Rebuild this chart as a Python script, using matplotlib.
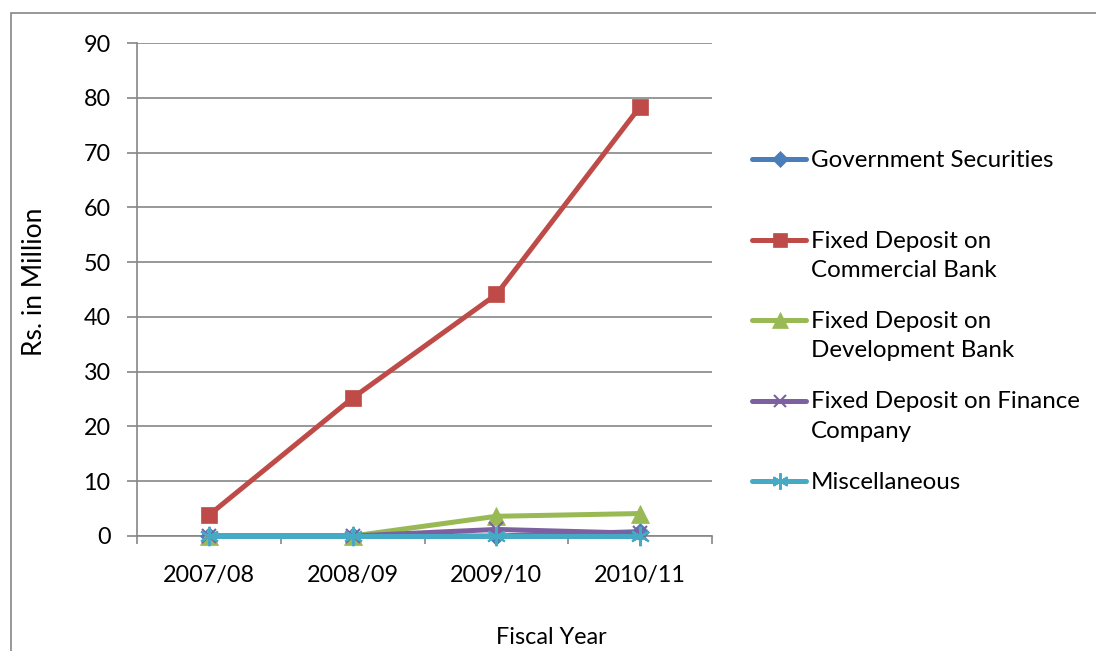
import matplotlib
matplotlib.use("Agg")
import matplotlib.pyplot as plt
from matplotlib.lines import Line2D
from matplotlib.patches import Rectangle

plt.rcParams['font.family'] = ['Lato', 'DejaVu Sans']

years = ["2007/08", "2008/09", "2009/10", "2010/11"]
gov_securities = [0.0, 0.0, 0.0, 0.8]
fd_commercial = [3.8, 25.2, 44.1, 78.4]
fd_development = [0.0, 0.0, 3.6, 4.1]
fd_finance = [0.0, 0.0, 1.2, 0.5]
miscellaneous = [0.0, 0.0, 0.0, 0.0]

labels = ["Government Securities", "Fixed Deposit on\nCommercial Bank",
          "Fixed Deposit on\nDevelopment Bank", "Fixed Deposit on Finance\nCompany",
          "Miscellaneous"]
colors = ["#4A7EBB", "#BE4B48", "#98B954", "#7D60A0", "#46AAC5"]
markers = ["D", "s", "^", "x", (6, 2, 0)]
msizes = [9, 12, 13, 10, 14]
series = [gov_securities, fd_commercial, fd_development, fd_finance, miscellaneous]

W, H = 1096, 651
fig = plt.figure(figsize=(W / 100, H / 100), dpi=100)
ax = fig.add_axes([137 / W, 1 - 536 / H, (712 - 137) / W, (536 - 43) / H])

x = list(range(len(years)))
for vals, c, m, ms in zip(series, colors, markers, msizes):
    ax.plot(x, vals, color=c, lw=3.6, marker=m, markersize=ms,
            markeredgewidth=1.5 if m in ("x",) or isinstance(m, tuple) else 0.5,
            markeredgecolor=c, markerfacecolor=c, clip_on=False, zorder=3)

ax.set_xlim(-0.5, len(years) - 0.5)
ax.set_ylim(0, 90)
ax.set_yticks(range(0, 91, 10))
ax.set_xticks(x)
ax.set_xticklabels(years)
ax.set_xticks([i - 0.5 for i in range(len(years) + 1)], minor=True)
ax.tick_params(axis='x', which='major', length=0, pad=21, labelsize=16.8)
ax.tick_params(axis='x', which='minor', length=6, color='#868686', width=1.2, direction='out')
ax.tick_params(axis='y', length=7, color='#868686', width=1.2, pad=12, labelsize=16.8)
ax.grid(axis='y', color='#868686', lw=1.2)
ax.set_axisbelow(True)
for s in ['top', 'right']:
    ax.spines[s].set_visible(False)
for s in ['left', 'bottom']:
    ax.spines[s].set_color('#868686')
    ax.spines[s].set_linewidth(1.2)

fig.text(35 / W, 1 - 282 / H, "Rs. in Million", rotation=90, ha='center', va='center', fontsize=19)
fig.text(551 / W, 1 - 637 / H, "Fiscal Year", ha='center', va='center', fontsize=16.8)

# legend drawn manually (Excel-style layout)
y0 = 159
step = 80.5
for i, (lab, c, m, ms) in enumerate(zip(labels, colors, markers, msizes)):
    yy = 1 - (y0 + i * step) / H
    fig.add_artist(Line2D([752 / W, 806 / W], [yy, yy], color=c, lw=3.6,
                          solid_capstyle='round', transform=fig.transFigure))
    fig.add_artist(Line2D([780 / W], [yy], color=c, marker=m, markersize=ms * 0.85,
                          markeredgewidth=1.5 if m == "x" or isinstance(m, tuple) else 0.5,
                          markeredgecolor=c, markerfacecolor=c, transform=fig.transFigure))
    fig.text(811 / W, yy + 9 / H, lab, ha='left', va='top', fontsize=17.4, linespacing=1.5)

fig.add_artist(Rectangle((11 / W, -0.05), 1.2, 1 - 13 / H + 0.05, fill=False,
                         edgecolor='#868686', lw=1.2, transform=fig.transFigure))

fig.savefig("out.png", dpi=100)
